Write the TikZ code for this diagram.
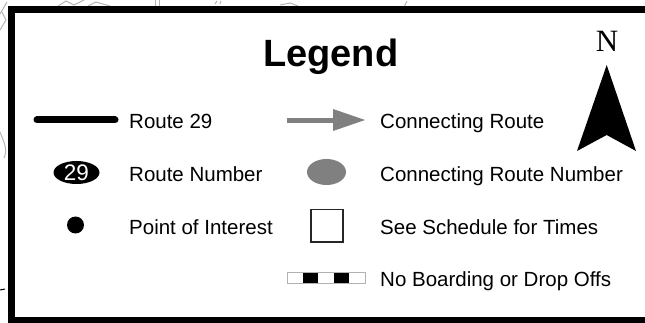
\documentclass[tikz,border=0pt]{standalone}
\usepackage{fontspec}
\usetikzlibrary{shapes.geometric}
\setmainfont{Liberation Sans}
\newfontfamily\compassfont{Liberation Serif}
\definecolor{connect}{HTML}{808080}
\definecolor{mapline}{HTML}{B4B4B4}
\begin{document}
\begin{tikzpicture}[x=1pt,y=-1pt,
  txt/.style={anchor=base west, inner sep=0pt, font=\fontsize{20.5}{24}\selectfont},
  frameline/.style={line width=7pt, line cap=butt},
  faint/.style={draw=mapline, line width=1pt},
  cellb/.style={fill=black, draw=none}]
\useasboundingbox (0,0) rectangle (645,323);
\fill[white] (0,0) rectangle (645,323);

% traces of the underlying map outside the frame
\draw[faint] (0,14) -- (7,2);
\draw[faint] (0,30) -- (6,20) -- (2,12);
\draw[faint] (58,6) -- (66,1) -- (74,5) -- (84,0);
\draw[faint] (88,6) -- (96,2) -- (110,6);
\draw[faint] (155,0) -- (155,7);
\draw[faint] (159,0) -- (159,6);
\draw[faint] (215,4) -- (217,1);
\draw[faint] (220,4) -- (221,1);
\draw[faint] (280,5) -- (290,3) -- (298,6);
\draw[faint] (404,7) -- (407,1);
\draw[faint] (0,132) .. controls (4,142) and (8,150) .. (4,158);
\draw[black, line width=1pt] (0,290) -- (5,289);

% frame (open on the right)
\draw[frameline] (650,9.5) -- (11,9.5) -- (11,320) -- (650,320);

% title
\node[anchor=base west, inner sep=0pt, font=\fontsize{38}{44}\selectfont\bfseries] (title) at (263,67) {Legend};

% north arrow
\node[anchor=base, inner sep=0pt, font=\fontsize{31}{34}\selectfont\compassfont] (north) at (607,52) {N};
\fill[black] (606.7,65) -- (636,151) -- (606.7,135) -- (577,151) -- cycle;

% route line
\coordinate (rA) at (37,120);
\coordinate (rB) at (115,120);
\draw[line width=7pt, line cap=round] (rA) -- (rB);
\node[txt] (l1) at (129,128.5) {Route 29};

% route number badge
\node[ellipse, fill=black, minimum width=46pt, minimum height=23pt, inner sep=0pt] (badge) at (76.5,172.5) {};
\node[inner sep=0pt, text=white, font=\fontsize{22.5}{24}\selectfont] at (badge.center) {29};
\node[txt] (l2) at (129,181.5) {Route Number};

% point of interest
\fill[black] (75.5,225) circle (8.5);
\node[txt] (l3) at (129,234.5) {Point of Interest};

% connecting route arrow
\coordinate (cA) at (287,120.5);
\coordinate (cB) at (334,120.5);
\draw[connect, line width=5pt] (cA) -- (cB);
\fill[connect] (333,109) -- (365,120) -- (333,131) -- cycle;
\node[txt] (l4) at (380,128.5) {Connecting Route};

% connecting route number
\fill[connect] (326.5,172) ellipse (19.5 and 13);
\node[txt] (l5) at (380,181.5) {Connecting Route Number};

% schedule box
\draw[line width=1.3pt, draw=black!85] (311,209.5) rectangle (343,242);
\node[txt] (l6) at (380,234.5) {See Schedule for Times};

% no boarding strip
\fill[cellb] (302.6,272) rectangle (318.2,283);
\fill[cellb] (333.8,272) rectangle (349.4,283);
\draw[draw=black!30, line width=0.8pt] (287,272) rectangle (365,283);
\node[txt] (l7) at (380,286.5) {No Boarding or Drop Offs};
\end{tikzpicture}
\end{document}
